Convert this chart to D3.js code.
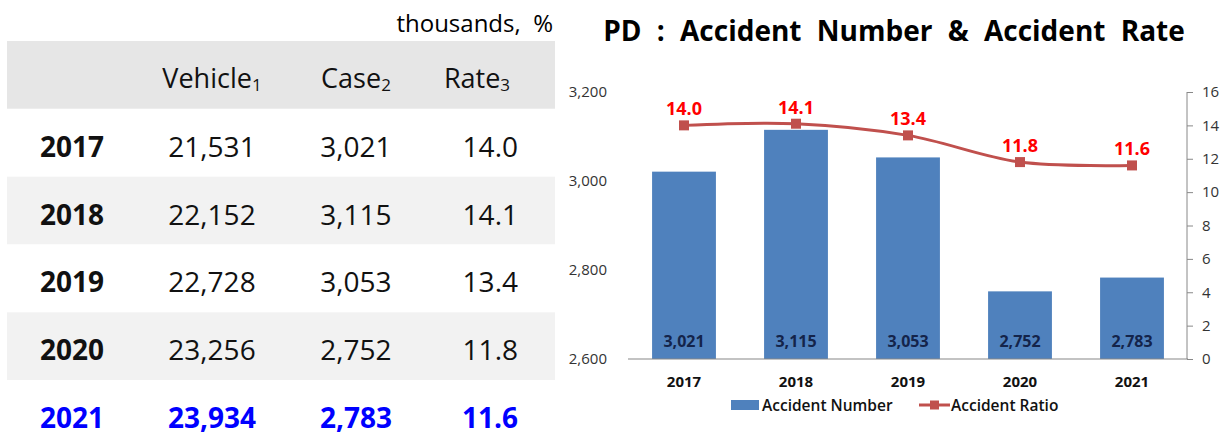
<!DOCTYPE html>
<html>
<head>
<meta charset="utf-8">
<script src="https://cdn.jsdelivr.net/npm/d3@7"></script>
<style>
  body { margin: 0; background: #fff; }
  svg { display: block; font-family: "Open Sans", "Noto Sans", sans-serif; }
</style>
</head>
<body>
<svg id="chart" width="1232" height="437"></svg>
<script>
// values
const years = ["2017", "2018", "2019", "2020", "2021"];
const vehicles = [21531, 22152, 22728, 23256, 23934];
const cases = [3021, 3115, 3053, 2752, 2783];
const rates = [14.0, 14.1, 13.4, 11.8, 11.6];
const headers = [["Vehicle", "1"], ["Case", "2"], ["Rate", "3"]];
const caseTicks = [2600, 2800, 3000, 3200];
const rateTicks = [0, 2, 4, 6, 8, 10, 12, 14, 16];

const svg = d3.select("#chart");
const fmt = d3.format(",");
const fmt1 = d3.format(".1f");

// ---------- table ----------
const table = svg.append("g").attr("name", "table");
const rowY = d3.scaleBand().domain(["head", ...years]).range([41, 448]).paddingInner(0);

table.selectAll("rect.row")
  .data(["head", ...years])
  .join("rect")
  .attr("class", "row")
  .attr("x", 7)
  .attr("width", 548)
  .attr("y", d => rowY(d))
  .attr("height", rowY.bandwidth())
  .attr("fill", (d, i) => i === 0 ? "#e6e6e6" : (i % 2 === 0 ? "#f2f2f2" : "#fff"));

table.append("text")
  .attr("x", 553).attr("y", 22)
  .attr("text-anchor", "end")
  .attr("dominant-baseline", "central")
  .style("font-size", "24px")
  .style("white-space", "pre")
  .text("thousands,  %");

const headX = [212, 356, 477];
const head = table.selectAll("text.head")
  .data(headers)
  .join("text")
  .attr("class", "head")
  .attr("x", (d, i) => headX[i])
  .attr("y", rowY("head") + rowY.bandwidth() / 2 + 2)
  .attr("text-anchor", "middle")
  .attr("dominant-baseline", "central")
  .style("font-size", "27px")
  .attr("fill", "#111");
head.append("tspan").text(d => d[0]);
head.append("tspan").attr("dy", 7).style("font-size", "17px").text(d => d[1]);

const rows = table.selectAll("g.trow")
  .data(years)
  .join("g")
  .attr("class", "trow")
  .attr("transform", d => `translate(0,${rowY(d) + rowY.bandwidth() / 2 + 3})`)
  .style("font-size", "28px")
  .attr("fill", (d, i) => i === years.length - 1 ? "#0000ff" : "#111")
  .style("font-weight", (d, i) => i === years.length - 1 ? "bold" : "normal");

rows.append("text").attr("x", 40).attr("dominant-baseline", "central")
  .style("font-weight", "bold").text(d => d);
rows.append("text").attr("x", 212).attr("text-anchor", "middle").attr("dominant-baseline", "central")
  .text((d, i) => fmt(vehicles[i]));
rows.append("text").attr("x", 356).attr("text-anchor", "middle").attr("dominant-baseline", "central")
  .text((d, i) => fmt(cases[i]));
rows.append("text").attr("x", 518).attr("text-anchor", "end").attr("dominant-baseline", "central")
  .text((d, i) => fmt1(rates[i]));

// ---------- chart ----------
svg.append("text")
  .attr("x", 894).attr("y", 30)
  .attr("text-anchor", "middle")
  .attr("dominant-baseline", "central")
  .style("font-size", "28px")
  .style("font-weight", "bold")
  .style("word-spacing", "8px")
  .attr("fill", "#000")
  .text("PD : Accident Number & Accident Rate");

const plot = { left: 628, right: 1188, top: 92, bottom: 359 };
const x = d3.scaleBand().domain(years).range([plot.left, plot.right]).paddingInner(0.43).paddingOuter(0.215);
const yL = d3.scaleLinear().domain([2600, 3200]).range([plot.bottom, plot.top]);
const yR = d3.scaleLinear().domain([0, 16]).range([plot.bottom, plot.top]);

// left axis: labels only
const axL = svg.append("g")
  .attr("transform", `translate(${plot.left},0)`)
  .call(d3.axisLeft(yL).tickValues(caseTicks).tickFormat(fmt).tickSize(0).tickPadding(21));
axL.select(".domain").remove();
axL.selectAll("text").style("font-size", "15px").attr("fill", "#333").style("font-family", "Open Sans, sans-serif");

// right axis
const axR = svg.append("g")
  .attr("transform", `translate(${plot.right - 1},0)`)
  .call(d3.axisRight(yR).tickValues(rateTicks).tickSize(6).tickPadding(9));
axR.select(".domain").attr("stroke", "#888").attr("d", `M0,${plot.top}V${plot.bottom}`);
axR.selectAll("line").attr("stroke", "#888");
axR.selectAll("text").style("font-size", "15px").attr("fill", "#333").style("font-family", "Open Sans, sans-serif");

// bars
svg.append("g").selectAll("rect")
  .data(years)
  .join("rect")
  .attr("x", d => x(d))
  .attr("width", x.bandwidth())
  .attr("y", (d, i) => yL(cases[i]))
  .attr("height", (d, i) => plot.bottom - yL(cases[i]))
  .attr("fill", "#4f81bd");

// baseline
svg.append("path")
  .attr("d", `M${plot.left},${plot.bottom}H${plot.right}`)
  .attr("stroke", "#888").attr("stroke-width", 1.2);

// bar labels
svg.append("g").selectAll("text")
  .data(years)
  .join("text")
  .attr("x", d => x(d) + x.bandwidth() / 2)
  .attr("y", plot.bottom - 18)
  .attr("text-anchor", "middle")
  .attr("dominant-baseline", "central")
  .style("font-size", "16px")
  .style("font-weight", "bold")
  .attr("fill", "#14244a")
  .text((d, i) => fmt(cases[i]));

// x labels
svg.append("g").selectAll("text")
  .data(years)
  .join("text")
  .attr("x", d => x(d) + x.bandwidth() / 2)
  .attr("y", 381)
  .attr("text-anchor", "middle")
  .attr("dominant-baseline", "central")
  .style("font-size", "15px")
  .style("font-weight", "bold")
  .attr("fill", "#111")
  .text(d => d);

// rate line
const pts = years.map((d, i) => [x(d) + x.bandwidth() / 2, yR(rates[i])]);
svg.append("path")
  .datum(pts)
  .attr("d", d3.line().curve(d3.curveCatmullRom.alpha(0.5)))
  .attr("fill", "none")
  .attr("stroke", "#c0504d")
  .attr("stroke-width", 3);

svg.append("g").selectAll("rect")
  .data(pts)
  .join("rect")
  .attr("x", d => d[0] - 5).attr("y", d => d[1] - 5)
  .attr("width", 10).attr("height", 10)
  .attr("fill", "#c0504d");

svg.append("g").selectAll("text")
  .data(pts)
  .join("text")
  .attr("x", d => d[0])
  .attr("y", d => d[1] - 17)
  .attr("text-anchor", "middle")
  .attr("dominant-baseline", "central")
  .style("font-size", "18px")
  .style("font-weight", "bold")
  .attr("fill", "#ff0000")
  .text((d, i) => fmt1(rates[i]));

// legend
const lg = svg.append("g").attr("transform", "translate(0,405)");
lg.append("rect").attr("x", 731).attr("y", -5).attr("width", 28).attr("height", 10).attr("fill", "#4f81bd");
lg.append("text").attr("x", 762).attr("dominant-baseline", "central")
  .style("font-size", "15.5px").style("font-weight", "600").attr("fill", "#111").text("Accident Number");
lg.append("path").attr("d", "M919,0H950").attr("stroke", "#c0504d").attr("stroke-width", 3);
lg.append("rect").attr("x", 930).attr("y", -4.5).attr("width", 9).attr("height", 9).attr("fill", "#c0504d");
lg.append("text").attr("x", 951).attr("dominant-baseline", "central")
  .style("font-size", "15.5px").style("font-weight", "600").attr("fill", "#111").text("Accident Ratio");
</script>
</body>
</html>
